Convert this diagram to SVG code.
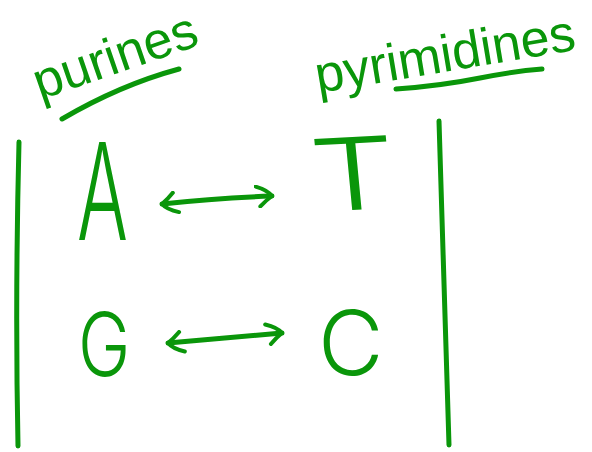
<svg xmlns="http://www.w3.org/2000/svg" width="592" height="452" viewBox="0 0 592 452">
<style>
.ink{fill:none;stroke:#0a960a;stroke-width:5;stroke-linecap:round;stroke-linejoin:round}
.word{fill:#0a960a;font-family:"Liberation Sans",Arial,sans-serif;font-size:52px}
.letter{fill:#0a960a;font-family:Inter,"Liberation Sans",sans-serif;font-weight:300}
</style>
<defs>
<marker id="head" viewBox="0 0 20 24" refX="18" refY="12" markerWidth="20" markerHeight="24" markerUnits="userSpaceOnUse" orient="auto-start-reverse">
<path d="M2 2 Q14 6 18 12 Q12 16 6 22" fill="none" stroke="#0a960a" stroke-width="4" stroke-linecap="round"/>
</marker>
</defs>
<rect width="592" height="452" fill="#ffffff"/>
<g id="purines-label">
<text class="word" transform="translate(40,100) rotate(-19)">purines</text>
<path class="ink" d="M62 119 Q120 85 179 69"/>
</g>
<g id="pyrimidines-label">
<text class="word" font-size="54" transform="translate(318,93) rotate(-9.5)">pyrimidines</text>
<path class="ink" d="M396 89 Q440 86 480 78 Q515 71 542 69"/>
</g>
<g id="left-bar"><path class="ink" d="M19 142 Q15 300 18 446"/></g>
<g id="right-bar"><path class="ink" d="M439 121 Q444 300 449 445"/></g>
<g id="node-A"><text class="letter" font-size="135" transform="translate(77,240) scale(0.56,1)">A</text></g>
<g id="node-T"><text class="letter" font-size="100" font-weight="100" transform="translate(314,212) scale(1.35,1) rotate(-4)">T</text></g>
<g id="node-G"><text class="letter" font-size="88" transform="translate(78,376) scale(0.8,1)">G</text></g>
<g id="node-C"><text class="letter" font-size="90" transform="translate(318,375)">C</text></g>
<g id="connectors">
<path class="ink" d="M162 204 Q215 198 272 196" marker-start="url(#head)" marker-end="url(#head)"/>
<path class="ink" d="M168 343 Q225 338 282 333" marker-start="url(#head)" marker-end="url(#head)"/>
</g>
</svg>
